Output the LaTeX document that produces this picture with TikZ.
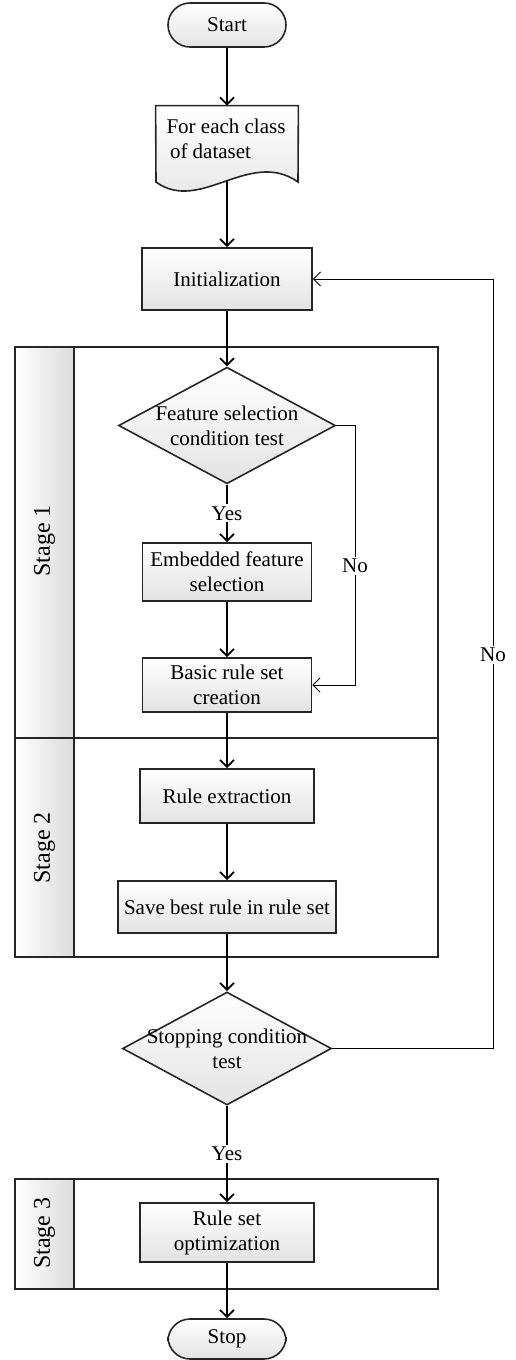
\documentclass[tikz,border=0pt]{standalone}
\usepackage{fontspec}
\setmainfont{Liberation Serif}
\usepackage{tikz}
\usetikzlibrary{arrows.meta, shapes.geometric}

\begin{document}
\begin{tikzpicture}[x=0.5pt, y=-0.5pt,
    every node/.style={font=\fontsize{10.5}{12.5}\selectfont},
    boxfill/.style={draw=black!85, line width=0.8pt, top color=white, bottom color=gray!22},
    procbox/.style={boxfill, rectangle, align=center, inner sep=0pt},
    termbox/.style={boxfill, rectangle, rounded corners=11pt, minimum width=59pt, inner sep=0pt},
    testbox/.style={boxfill, diamond, aspect=1.86, align=center, inner sep=0pt},
    stagebox/.style={draw=black!85, line width=0.6pt},
    stagestrip/.style={draw=black!85, line width=0.8pt, left color=white, right color=gray!28},
    stagelbl/.style={rotate=90, font=\fontsize{12}{14}\selectfont},
    arr/.style={line width=0.9pt, -{Straight Barb[length=3.5pt, width=7pt]}},
    loop/.style={line width=0.5pt, -{Straight Barb[length=3.5pt, width=7pt]}},
    lbl/.style={fill=white, inner sep=1pt}]
      \useasboundingbox (0,0) rectangle (515,1360);

      % Stage panels
      \draw[stagebox] (15,347) rectangle (438,738);
      \draw[stagestrip] (15,347) rectangle (74,738);
      \node[stagelbl] (s1) at (44.5,541) {Stage 1};
      \draw[stagebox] (15,738) rectangle (438,957);
      \draw[stagestrip] (15,738) rectangle (74,957);
      \node[stagelbl] (s2) at (44.5,848) {Stage 2};
      \draw[stagebox] (15,1179) rectangle (438,1289);
      \draw[stagestrip] (15,1179) rectangle (74,1289);
      \node[stagelbl] (s3) at (44.5,1233) {Stage 3};

      % Flow nodes
      \node[termbox, minimum height=22pt] (start) at (227,25) {Start};
      \node[align=left, minimum width=71pt, minimum height=37.25pt, inner sep=0pt] (doc) at (227,143.25) {};
      \draw[boxfill] (doc.north west) -- (doc.north east) -- (298,182)
            .. controls (250,148) and (200,214) .. (156,182) -- cycle;
      \node[align=left] at (226,139) {For each class\\\,of dataset};
      \node[procbox, minimum width=85pt, minimum height=31pt] (init) at (227,279) {Initialization};
      \node[testbox, minimum width=107pt, minimum height=57.5pt] (fsel) at (227,425.5) {Feature selection\\condition test};
      \node[procbox, minimum width=84.5pt, minimum height=29pt] (embed) at (227,572) {Embedded feature\\selection};
      \node[procbox, minimum width=84.5pt, minimum height=27pt] (basic) at (227,685) {Basic rule set\\creation};
      \node[procbox, minimum width=87pt, minimum height=27pt] (extract) at (227,796) {Rule extraction};
      \node[procbox, minimum width=109pt, minimum height=26pt] (save) at (227,907) {Save best rule in rule set};
      \node[testbox, inner sep=-4pt, minimum width=104.5pt, minimum height=56.5pt] (stopt) at (227,1048.5) {Stopping condition\\test};
      \node[procbox, minimum width=87pt, minimum height=29.5pt] (optim) at (227,1232.5) {Rule set\\optimization};
      \node[termbox, minimum height=20pt] (stop) at (227,1339) {Stop};

      % Main flow
      \draw[arr] (start) -- (doc);
      \draw[arr] (doc) -- (init);
      \draw[arr] (init) -- (fsel);
      \draw[arr] (fsel) -- node[lbl] {Yes} (embed);
      \draw[arr] (embed) -- (basic);
      \draw[arr] (basic) -- (extract);
      \draw[arr] (extract) -- (save);
      \draw[arr] (save) -- (stopt);
      \draw[arr] (stopt) -- node[lbl] {Yes} (optim);
      \draw[arr] (optim) -- (stop);

      % No branches
      \coordinate (skip) at (355,0);
      \coordinate (back) at (493,0);
      \draw[loop] (fsel.east) -| (skip |- basic.east) -- (basic.east);
      \node[lbl] (no1) at (355,566) {No};
      \draw[loop] (stopt.east) -| (back |- init.east) -- (init.east);
      \node[lbl] (no2) at (493,655) {No};
\end{tikzpicture}
\end{document}
